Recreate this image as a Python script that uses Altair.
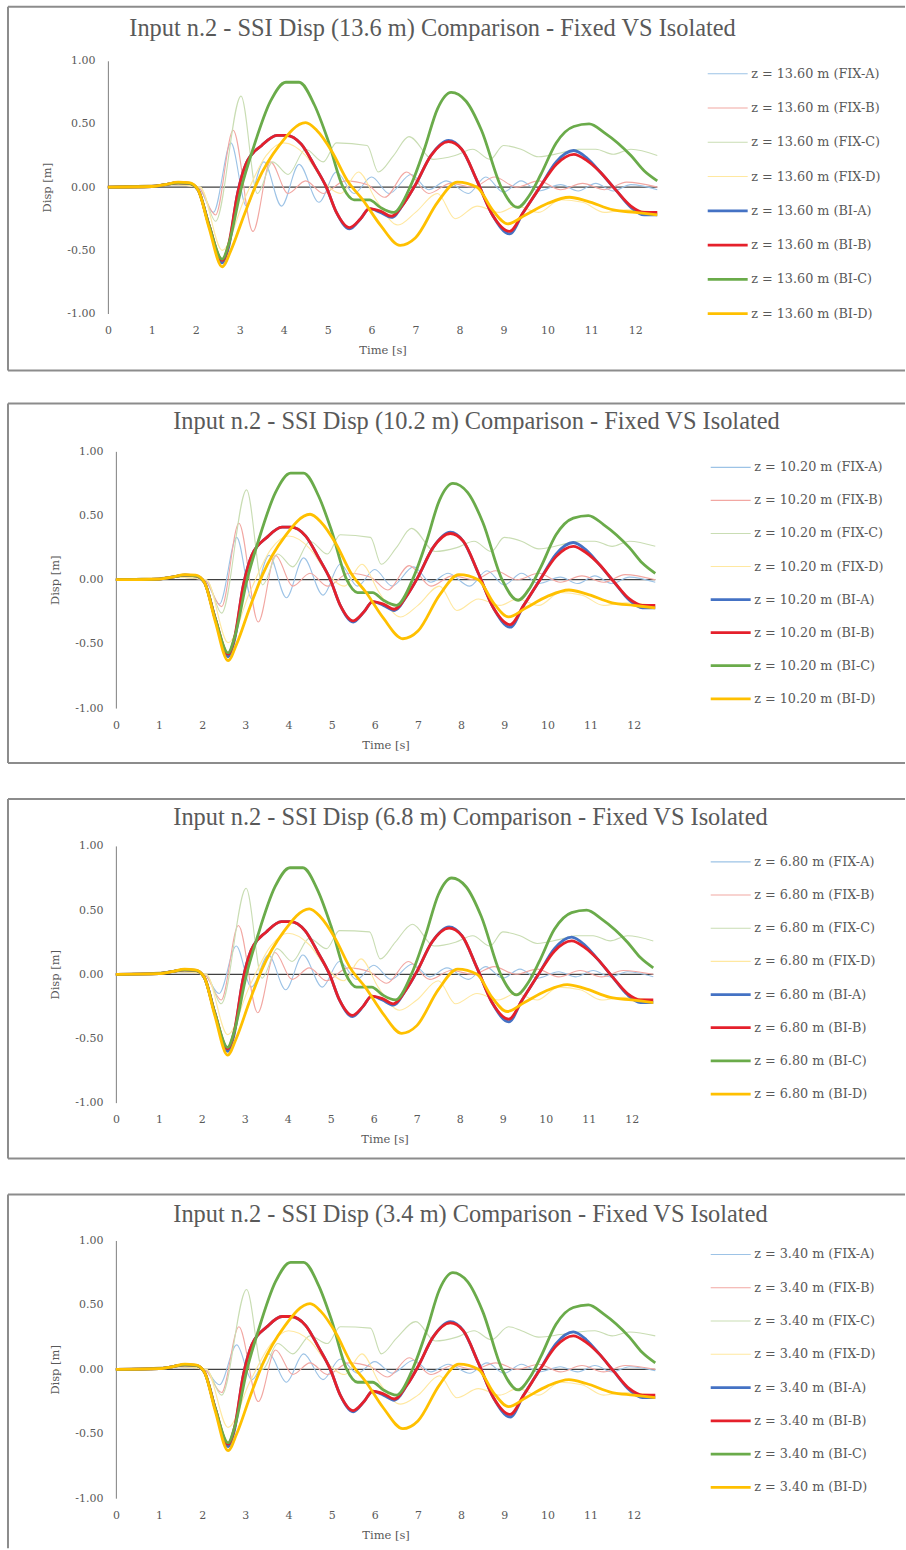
import altair as alt
import pandas as pd

SERIES = ["FIX-A", "FIX-B", "FIX-C", "FIX-D", "BI-A", "BI-B", "BI-C", "BI-D"]
LEVELS = ["13.6", "10.2", "6.8", "3.4"]
LEVEL_LABELS = ["13.60", "10.20", "6.80", "3.40"]
COLORS = ["#9DC3E6", "#F2A7A2", "#C9DDB3", "#FFE8A0", "#4472C4", "#E5202B", "#6AAB4A", "#FFC000"]
WIDTHS = [1.1, 1.1, 1.1, 1.1, 2.8, 2.8, 2.8, 2.8]
X_TICKS = [0, 1, 2, 3, 4, 5, 6, 7, 8, 9, 10, 11, 12]
Y_TICKS = [-1.0, -0.5, 0.0, 0.5, 1.0]

# ---- isolated (BI) responses: practically the same at every level ----
BI_A = [(0, 0), (1.0, 0.005), (1.3, 0.02), (1.6, 0.035), (1.85, 0.03), (2.05, -0.02), (2.3, -0.3),
        (2.6, -0.6), (2.75, -0.47), (2.95, -0.05), (3.15, 0.19), (3.5, 0.33), (3.85, 0.41), (4.05, 0.41),
        (4.4, 0.34), (4.7, 0.17), (4.97, 0.0), (5.2, -0.2), (5.5, -0.33), (5.75, -0.25), (5.95, -0.17),
        (6.2, -0.2), (6.45, -0.24), (6.75, -0.12), (7.0, 0.02), (7.35, 0.25), (7.75, 0.37), (8.05, 0.3),
        (8.4, 0.05), (8.75, -0.22), (9.14, -0.37), (9.45, -0.2), (9.83, 0.0), (10.2, 0.2), (10.6, 0.29),
        (10.9, 0.23), (11.2, 0.12), (11.55, -0.02), (11.9, -0.16), (12.2, -0.22), (12.5, -0.22)]
BI_B = [(0, 0), (1.0, 0.005), (1.3, 0.02), (1.6, 0.035), (1.85, 0.03), (2.05, -0.02), (2.3, -0.3),
        (2.6, -0.58), (2.75, -0.45), (2.95, -0.05), (3.15, 0.19), (3.5, 0.33), (3.85, 0.41), (4.05, 0.41),
        (4.4, 0.34), (4.7, 0.17), (4.97, 0.0), (5.2, -0.2), (5.5, -0.32), (5.75, -0.25), (5.95, -0.17),
        (6.2, -0.19), (6.45, -0.23), (6.75, -0.12), (7.0, 0.02), (7.35, 0.25), (7.75, 0.36), (8.05, 0.3),
        (8.4, 0.05), (8.75, -0.22), (9.14, -0.35), (9.45, -0.2), (9.83, 0.0), (10.2, 0.18), (10.6, 0.26),
        (10.9, 0.21), (11.2, 0.12), (11.55, -0.02), (11.9, -0.15), (12.2, -0.2), (12.5, -0.2)]
BI_C = [(0, 0), (1.0, 0.005), (1.3, 0.02), (1.6, 0.035), (1.85, 0.03), (2.05, -0.02), (2.3, -0.3),
        (2.6, -0.57), (2.75, -0.45), (3.04, 0.0), (3.3, 0.3), (3.7, 0.68), (4.05, 0.83), (4.35, 0.83),
        (4.7, 0.65), (5.0, 0.38), (5.35, 0.0), (5.6, -0.1), (5.95, -0.1), (6.2, -0.16), (6.5, -0.2),
        (6.9, 0.02), (7.2, 0.3), (7.5, 0.62), (7.81, 0.75), (8.15, 0.68), (8.5, 0.45), (8.95, 0.0),
        (9.32, -0.16), (9.6, -0.06), (9.85, 0.1), (10.2, 0.35), (10.6, 0.48), (10.95, 0.5), (11.3, 0.43),
        (11.9, 0.25), (12.2, 0.13), (12.5, 0.05)]
BI_D = [(0, 0), (1.0, 0.005), (1.3, 0.02), (1.6, 0.04), (1.85, 0.035), (2.05, -0.02), (2.3, -0.32),
        (2.6, -0.63), (2.8, -0.5), (3.1, -0.22), (3.4, 0.04), (3.9, 0.33), (4.5, 0.51), (4.75, 0.45),
        (5.1, 0.28), (5.45, 0.05), (5.8, -0.1), (6.2, -0.3), (6.65, -0.46), (7.0, -0.4), (7.5, -0.12),
        (7.95, 0.04), (8.4, 0.0), (8.75, -0.18), (9.1, -0.29), (9.5, -0.22), (10.0, -0.13), (10.5, -0.08),
        (10.9, -0.11), (11.5, -0.18), (12.0, -0.2), (12.5, -0.22)]

# ---- fixed-base (FIX) responses per level ----
FIX_A_136 = [(0, 0), (1.5, 0.02), (2.05, 0), (2.4, -0.2), (2.8, 0.35), (3.15, -0.15), (3.55, 0.2),
             (3.95, -0.15), (4.35, 0.18), (4.8, -0.12), (5.2, 0.12), (5.6, -0.05), (6.0, 0.08), (6.4, -0.05),
             (6.9, 0.1), (7.3, -0.02), (7.7, 0.05), (8.2, -0.05), (8.6, 0.08), (9.0, -0.04), (9.4, 0.05),
             (9.8, -0.03), (10.3, 0.02), (10.7, -0.03), (11.1, 0.03), (11.5, -0.03), (11.9, 0.02), (12.5, -0.02)]
FIX_B_136 = [(0, 0), (1.5, 0.02), (2.05, 0), (2.45, -0.22), (2.85, 0.45), (3.3, -0.35), (3.7, 0.2),
             (4.1, -0.05), (4.5, 0.05), (4.9, -0.05), (5.4, 0.05), (5.9, 0.02), (6.3, -0.08), (6.8, 0.12),
             (7.3, -0.05), (7.8, 0.03), (8.3, 0.0), (8.8, 0.08), (9.3, 0.0), (9.8, 0.05), (10.3, -0.02),
             (10.8, 0.03), (11.3, -0.02), (11.8, 0.04), (12.5, 0.0)]
FIX_C_136 = [(0, 0), (1.5, 0.02), (2.1, 0), (2.45, -0.27), (3.03, 0.72), (3.4, -0.05), (3.75, 0.2),
             (4.1, 0.1), (4.5, 0.3), (4.9, 0.2), (5.2, 0.35), (5.9, 0.33), (6.15, 0.12), (6.5, 0.25),
             (6.85, 0.4), (7.4, 0.22), (7.9, 0.25), (8.3, 0.3), (8.7, 0.22), (9.0, 0.33), (9.4, 0.3),
             (9.8, 0.24), (10.3, 0.27), (10.7, 0.3), (11.1, 0.3), (11.5, 0.26), (11.9, 0.3), (12.5, 0.25)]
FIX_D_136 = [(0, 0), (1.5, 0.02), (2.1, 0), (2.6, -0.5), (3.1, -0.1), (3.6, 0.25), (4.0, 0.35), (4.5, 0.25),
             (4.9, 0.05), (5.3, -0.05), (5.7, 0.12), (6.1, -0.1), (6.6, -0.3), (7.0, -0.2), (7.5, -0.05),
             (7.9, -0.25), (8.4, -0.15), (8.9, -0.2), (9.3, -0.15), (9.8, -0.2), (10.3, -0.1), (10.8, -0.12),
             (11.3, -0.2), (11.8, -0.18), (12.5, -0.2)]

FIX_A_102 = [(0, 0), (1.5, 0.02), (2.05, 0), (2.4, -0.19), (2.8, 0.33), (3.15, -0.15), (3.55, 0.19),
             (3.95, -0.14), (4.35, 0.17), (4.8, -0.12), (5.2, 0.12), (5.6, -0.05), (6.0, 0.08), (6.4, -0.05),
             (6.9, 0.1), (7.3, -0.02), (7.7, 0.05), (8.2, -0.05), (8.6, 0.07), (9.0, -0.04), (9.4, 0.05),
             (9.8, -0.03), (10.3, 0.02), (10.7, -0.03), (11.1, 0.03), (11.5, -0.03), (11.9, 0.02), (12.5, -0.02)]
FIX_B_102 = [(0, 0), (1.5, 0.02), (2.05, 0), (2.45, -0.21), (2.85, 0.44), (3.3, -0.33), (3.7, 0.19),
             (4.1, -0.05), (4.5, 0.05), (4.9, -0.05), (5.4, 0.05), (5.9, 0.02), (6.3, -0.08), (6.8, 0.11),
             (7.3, -0.05), (7.8, 0.03), (8.3, 0.0), (8.8, 0.07), (9.3, 0.0), (9.8, 0.05), (10.3, -0.02),
             (10.8, 0.03), (11.3, -0.02), (11.8, 0.04), (12.5, 0.0)]
FIX_C_102 = [(0, 0), (1.5, 0.02), (2.1, 0), (2.45, -0.26), (3.03, 0.70), (3.4, -0.04), (3.75, 0.2),
             (4.1, 0.1), (4.5, 0.3), (4.9, 0.2), (5.2, 0.35), (5.9, 0.33), (6.15, 0.12), (6.5, 0.25),
             (6.85, 0.4), (7.4, 0.22), (7.9, 0.25), (8.3, 0.3), (8.7, 0.22), (9.0, 0.33), (9.4, 0.3),
             (9.8, 0.24), (10.3, 0.27), (10.7, 0.3), (11.1, 0.3), (11.5, 0.26), (11.9, 0.3), (12.5, 0.26)]
FIX_D_102 = [(0, 0), (1.5, 0.02), (2.1, 0), (2.6, -0.49), (3.1, -0.1), (3.6, 0.24), (4.0, 0.34), (4.5, 0.24),
             (4.9, 0.05), (5.3, -0.05), (5.7, 0.12), (6.1, -0.1), (6.6, -0.29), (7.0, -0.2), (7.5, -0.05),
             (7.9, -0.24), (8.4, -0.15), (8.9, -0.2), (9.3, -0.15), (9.8, -0.2), (10.3, -0.1), (10.8, -0.12),
             (11.3, -0.2), (11.8, -0.18), (12.5, -0.2)]

FIX_A_68 = [(0, 0), (1.5, 0.02), (2.05, 0), (2.4, -0.15), (2.8, 0.22), (3.15, -0.1), (3.55, 0.15),
            (3.95, -0.12), (4.35, 0.15), (4.8, -0.1), (5.2, 0.1), (5.6, -0.04), (6.0, 0.07), (6.4, -0.04),
            (6.9, 0.08), (7.3, -0.02), (7.7, 0.05), (8.2, -0.04), (8.6, 0.06), (9.0, -0.03), (9.4, 0.04),
            (9.8, -0.03), (10.3, 0.02), (10.7, -0.02), (11.1, 0.03), (11.5, -0.02), (11.9, 0.02), (12.5, -0.02)]
FIX_B_68 = [(0, 0), (1.5, 0.02), (2.05, 0), (2.45, -0.2), (2.85, 0.38), (3.3, -0.3), (3.7, 0.17),
            (4.1, -0.04), (4.5, 0.05), (4.9, -0.05), (5.4, 0.05), (5.9, 0.02), (6.3, -0.07), (6.8, 0.1),
            (7.3, -0.04), (7.8, 0.03), (8.3, 0.0), (8.8, 0.06), (9.3, 0.0), (9.8, 0.04), (10.3, -0.02),
            (10.8, 0.03), (11.3, -0.02), (11.8, 0.03), (12.5, 0.0)]
FIX_C_68 = [(0, 0), (1.5, 0.02), (2.1, 0), (2.45, -0.23), (3.03, 0.67), (3.4, -0.03), (3.75, 0.2),
            (4.1, 0.1), (4.5, 0.28), (4.9, 0.2), (5.2, 0.34), (5.9, 0.33), (6.15, 0.12), (6.5, 0.25),
            (6.9, 0.39), (7.4, 0.22), (7.9, 0.25), (8.3, 0.3), (8.7, 0.22), (9.0, 0.33), (9.4, 0.3),
            (9.8, 0.24), (10.3, 0.27), (10.7, 0.3), (11.1, 0.3), (11.5, 0.26), (11.9, 0.3), (12.5, 0.26)]
FIX_D_68 = [(0, 0), (1.5, 0.02), (2.1, 0), (2.6, -0.47), (3.1, -0.1), (3.6, 0.22), (4.0, 0.32), (4.5, 0.23),
            (4.9, 0.05), (5.3, -0.05), (5.7, 0.12), (6.1, -0.1), (6.6, -0.28), (7.0, -0.2), (7.5, -0.05),
            (7.9, -0.23), (8.4, -0.15), (8.9, -0.2), (9.3, -0.15), (9.8, -0.2), (10.3, -0.1), (10.8, -0.12),
            (11.3, -0.2), (11.8, -0.18), (12.5, -0.2)]

FIX_A_34 = [(0, 0), (1.5, 0.02), (2.05, 0), (2.4, -0.12), (2.8, 0.19), (3.15, -0.08), (3.55, 0.12),
            (3.95, -0.1), (4.35, 0.12), (4.8, -0.08), (5.2, 0.08), (5.6, -0.03), (6.0, 0.06), (6.4, -0.03),
            (6.9, 0.07), (7.3, -0.02), (7.7, 0.04), (8.2, -0.03), (8.6, 0.05), (9.0, -0.03), (9.4, 0.04),
            (9.8, -0.02), (10.3, 0.02), (10.7, -0.02), (11.1, 0.03), (11.5, -0.02), (11.9, 0.02), (12.5, -0.01)]
FIX_B_34 = [(0, 0), (1.5, 0.02), (2.05, 0), (2.45, -0.18), (2.85, 0.33), (3.3, -0.25), (3.7, 0.15),
            (4.1, -0.04), (4.5, 0.05), (4.9, -0.04), (5.4, 0.05), (5.9, 0.02), (6.3, -0.06), (6.8, 0.09),
            (7.3, -0.04), (7.8, 0.03), (8.3, 0.0), (8.8, 0.05), (9.3, 0.0), (9.8, 0.04), (10.3, -0.02),
            (10.8, 0.03), (11.3, -0.02), (11.8, 0.03), (12.5, 0.0)]
FIX_C_34 = [(0, 0), (1.5, 0.02), (2.1, 0), (2.45, -0.2), (3.03, 0.62), (3.4, 0.0), (3.75, 0.2),
            (4.1, 0.12), (4.5, 0.26), (4.9, 0.2), (5.2, 0.33), (5.9, 0.32), (6.15, 0.12), (6.5, 0.24),
            (6.95, 0.37), (7.4, 0.22), (7.9, 0.25), (8.3, 0.3), (8.7, 0.23), (9.1, 0.33), (9.4, 0.3),
            (9.8, 0.25), (10.3, 0.27), (10.7, 0.29), (11.1, 0.3), (11.5, 0.26), (11.9, 0.29), (12.5, 0.26)]
FIX_D_34 = [(0, 0), (1.5, 0.02), (2.1, 0), (2.6, -0.45), (3.1, -0.1), (3.6, 0.2), (4.0, 0.3), (4.5, 0.22),
            (4.9, 0.05), (5.3, -0.04), (5.7, 0.12), (6.1, -0.1), (6.6, -0.27), (7.0, -0.2), (7.5, -0.05),
            (7.9, -0.22), (8.4, -0.15), (8.9, -0.2), (9.3, -0.15), (9.8, -0.2), (10.3, -0.1), (10.8, -0.12),
            (11.3, -0.2), (11.8, -0.18), (12.5, -0.2)]

PANEL_SERIES = [
    [FIX_A_136, FIX_B_136, FIX_C_136, FIX_D_136, BI_A, BI_B, BI_C, BI_D],
    [FIX_A_102, FIX_B_102, FIX_C_102, FIX_D_102, BI_A, BI_B, BI_C, BI_D],
    [FIX_A_68, FIX_B_68, FIX_C_68, FIX_D_68, BI_A, BI_B, BI_C, BI_D],
    [FIX_A_34, FIX_B_34, FIX_C_34, FIX_D_34, BI_A, BI_B, BI_C, BI_D],
]

# plot origin is at x=116 for every panel; panel 1's x range starts 8px further left
LAYOUT = [
    dict(w=542, h=253, x0=-8, top=-54, bottom=310, tx=317, ty=-32, lx=591, ly=7, rp=21.3, bottom_rule=True),
    dict(w=540, h=257, x0=0, top=-48, bottom=312, tx=361, ty=-29, lx=594, ly=10, rp=20.1, bottom_rule=True),
    dict(w=538, h=257, x0=0, top=-47, bottom=313, tx=355, ty=-28, lx=594, ly=10, rp=20.2, bottom_rule=True),
    dict(w=540, h=258, x0=0, top=-46, bottom=308, tx=355, ty=-26, lx=594, ly=8, rp=20.3, bottom_rule=False),
]
FRAME_LEFT = -108
FRAME_RIGHT = 790

TITLE_FONT = "Liberation Serif"
LABEL_FONT = "DejaVu Serif"
GREY = "#595959"
FRAME = "#8C8C8C"
HYPHEN_LABEL = "replace(datum.label, '\u2212', '-')"


def make_panel(k):
    lay = LAYOUT[k]
    labels = [f"z = {LEVEL_LABELS[k]} m ({s})" for s in SERIES]
    rows = []
    for i, (lab, pts) in enumerate(zip(labels, PANEL_SERIES[k])):
        for t, v in pts:
            rows.append({"t": t, "v": v, "s": lab, "o": i})
    df = pd.DataFrame(rows)
    one = pd.DataFrame({"a": [0]})

    frame_parts = [
        alt.Chart(one).mark_rule(color=FRAME, strokeWidth=2).encode(
            x=alt.value(FRAME_LEFT), x2=alt.value(FRAME_RIGHT), y=alt.value(lay["top"])),
        alt.Chart(one).mark_rule(color=FRAME, strokeWidth=2).encode(
            x=alt.value(FRAME_LEFT), y=alt.value(lay["top"]), y2=alt.value(lay["bottom"])),
    ]
    if lay["bottom_rule"]:
        frame_parts.append(alt.Chart(one).mark_rule(color=FRAME, strokeWidth=2).encode(
            x=alt.value(FRAME_LEFT), x2=alt.value(FRAME_RIGHT), y=alt.value(lay["bottom"])))

    title = alt.Chart(one).mark_text(font=TITLE_FONT, fontSize=24.4, color=GREY, baseline="middle",
                                     align="center").encode(
        x=alt.value(lay["tx"]), y=alt.value(lay["ty"]),
        text=alt.value(f"Input n.2 - SSI Disp ({LEVELS[k]} m) Comparison - Fixed VS Isolated"))

    xscale = alt.Scale(domain=[0, 12.5], nice=False, zero=False, range=[lay["x0"], lay["w"]])

    zero = alt.Chart(one).mark_rule(color="#404040", strokeWidth=1.2).encode(
        x=alt.datum(0, scale=xscale), x2=alt.datum(12.5), y=alt.datum(0))

    legend = alt.Legend(title=None, orient="none", legendX=lay["lx"], legendY=lay["ly"],
                        symbolType="stroke", symbolSize=1600, clipHeight=12, rowPadding=lay["rp"],
                        labelFont=LABEL_FONT, labelFontSize=12.8, labelColor=GREY, labelOffset=2,
                        labelLimit=300)
    lines = alt.Chart(df).mark_line(interpolate="monotone").encode(
        x=alt.X("t:Q", scale=xscale,
                axis=alt.Axis(values=X_TICKS, format="d", grid=False, domain=False, ticks=False,
                              labelFlush=False, labelFont=LABEL_FONT, labelFontSize=11, labelColor=GREY,
                              labelPadding=11, title="Time [s]", titleFont=LABEL_FONT, titleFontSize=11.5,
                              titleFontWeight="normal", titleColor=GREY, titlePadding=9)),
        y=alt.Y("v:Q", scale=alt.Scale(domain=[-1, 1], nice=False),
                axis=alt.Axis(values=Y_TICKS, format=".2f", labelExpr=HYPHEN_LABEL, grid=False,
                              domain=True, domainColor="#7F7F7F", ticks=False, offset=-lay["x0"],
                              labelFlush=False, labelFont=LABEL_FONT, labelFontSize=11, labelColor=GREY,
                              labelPadding=13, title="Disp [m]", titleFont=LABEL_FONT, titleFontSize=11.5,
                              titleFontWeight="normal", titleColor=GREY, titlePadding=14)),
        color=alt.Color("s:N", scale=alt.Scale(domain=labels, range=COLORS), legend=legend),
        strokeWidth=alt.StrokeWidth("s:N", scale=alt.Scale(type="ordinal", domain=labels, range=WIDTHS),
                                    legend=legend),
        order=alt.Order("o:Q"),
    )
    return alt.layer(*frame_parts, title, zero, lines).properties(width=lay["w"], height=lay["h"])


chart = alt.vconcat(*[make_panel(k) for k in range(4)], spacing=138, bounds="flush").resolve_scale(
    color="independent", strokeWidth="independent", x="independent", y="independent"
).resolve_legend(color="independent", strokeWidth="independent").properties(
    padding={"left": 7, "top": 5, "right": 0, "bottom": 0}, background="white"
).configure_view(stroke=None)

chart.save("out.html", embed_options={"renderer": "svg", "actions": False})
